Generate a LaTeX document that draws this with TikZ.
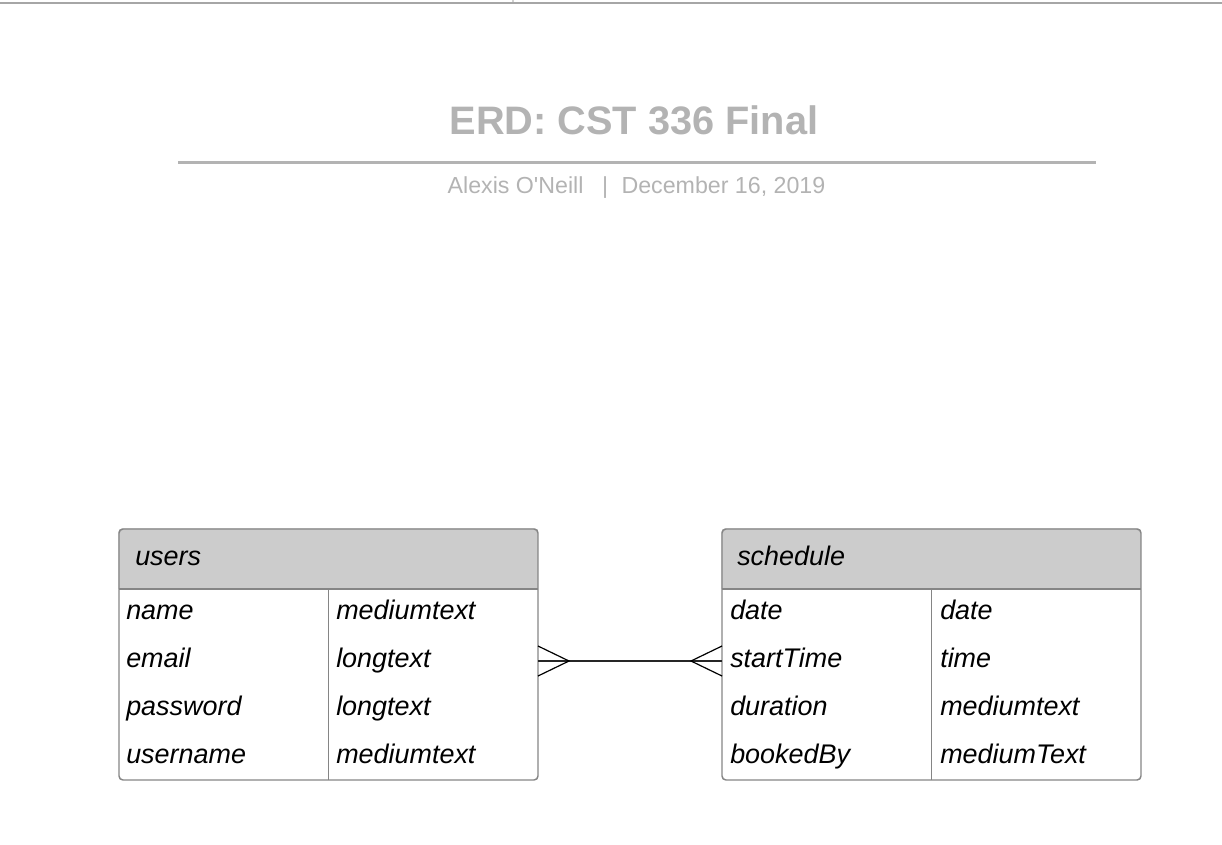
\documentclass[tikz,border=0pt]{standalone}
\usepackage{fontspec}
\setmainfont{Liberation Sans}
\usetikzlibrary{backgrounds}
\definecolor{titlegray}{HTML}{B3B3B3}
\definecolor{headgray}{HTML}{CCCCCC}
\definecolor{edgegray}{HTML}{858585}
\definecolor{topgray}{HTML}{A6A6A6}
\definecolor{tickgray}{HTML}{D0D0D0}
\tikzset{
  entity/.style={draw=edgegray, line width=1.1pt, rounded corners=3pt, minimum width=314.25pt, minimum height=188.25pt, inner sep=0pt},
  entityname/.style={anchor=base west, inner sep=0pt, font=\fontsize{20.2}{24}\selectfont\itshape},
  attr/.style={anchor=base west, inner sep=0pt, font=\fontsize{20.2}{24}\selectfont\itshape},
  divider/.style={draw=edgegray, line width=1.1pt},
  crow/.style={line width=0.9pt},
}
\begin{document}
\begin{tikzpicture}[x=0.75pt,y=-0.75pt]
\useasboundingbox (0,0) rectangle (1222,844);
\fill[topgray] (0,2) rectangle (1222,4);
\fill[tickgray] (512,0) rectangle (514,2);

\node[anchor=base, inner sep=0pt, text=titlegray, font=\fontsize{29.8}{34}\selectfont\bfseries] (title) at (634,134.3) {ERD: CST 336 Final};
\draw[titlegray, line width=2.25pt] (178,162.7) -- (1096,162.7);
\node[anchor=base, inner sep=0pt, text=titlegray, font=\fontsize{17.4}{20}\selectfont] (byline) at (636.5,193.3) {Alexis O\textquotesingle Neill\hspace{14pt}|\hspace{10pt}December 16, 2019};

\node[entity] (users) at (328.5,654.5) {};
\node[entity] (schedule) at (931.5,654.5) {};
\begin{scope}[on background layer]
\begin{scope}
\clip[rounded corners=3pt] (users.north west) rectangle (users.south east);
\fill[headgray] (users.north west) rectangle (538,589);
\end{scope}
\begin{scope}
\clip[rounded corners=3pt] (schedule.north west) rectangle (schedule.south east);
\fill[headgray] (schedule.north west) rectangle (1141,589);
\end{scope}
\end{scope}
\draw[divider] (119,589) -- (538,589);
\draw[divider] (328.5,589) -- (328.5,780);
\draw[divider] (722,589) -- (1141,589);
\draw[divider] (931.5,589) -- (931.5,780);

\node[entityname] (users-title) at (135,565) {users};
\node[attr] (users-name) at (126,619) {name};
\node[attr] (users-email) at (126,667) {email};
\node[attr] (users-password) at (126,715) {password};
\node[attr] (users-username) at (126,763) {username};
\node[attr] (users-name-type) at (336,619) {mediumtext};
\node[attr] (users-email-type) at (336,667) {longtext};
\node[attr] (users-password-type) at (336,715) {longtext};
\node[attr] (users-username-type) at (336,763) {mediumtext};

\node[entityname] (schedule-title) at (737,565) {schedule};
\node[attr] (schedule-date) at (730,619) {date};
\node[attr] (schedule-start) at (730,667) {startTime};
\node[attr] (schedule-duration) at (730,715) {duration};
\node[attr] (schedule-booked) at (730,763) {bookedBy};
\node[attr] (schedule-date-type) at (940,619) {date};
\node[attr] (schedule-start-type) at (940,667) {time};
\node[attr] (schedule-duration-type) at (940,715) {mediumtext};
\node[attr] (schedule-booked-type) at (940,763) {mediumText};

\coordinate (users-link) at (538,661);
\coordinate (schedule-link) at (722,661);
\coordinate (users-tip) at (569,661);
\coordinate (schedule-tip) at (691,661);
\draw[line width=1.2pt, black!85] (users-link) -- (schedule-link);
\draw[crow] ([yshift=11.25pt]users-link) -- (users-tip) -- ([yshift=-11.25pt]users-link);
\draw[crow] ([yshift=11.25pt]schedule-link) -- (schedule-tip) -- ([yshift=-11.25pt]schedule-link);
\end{tikzpicture}
\end{document}
